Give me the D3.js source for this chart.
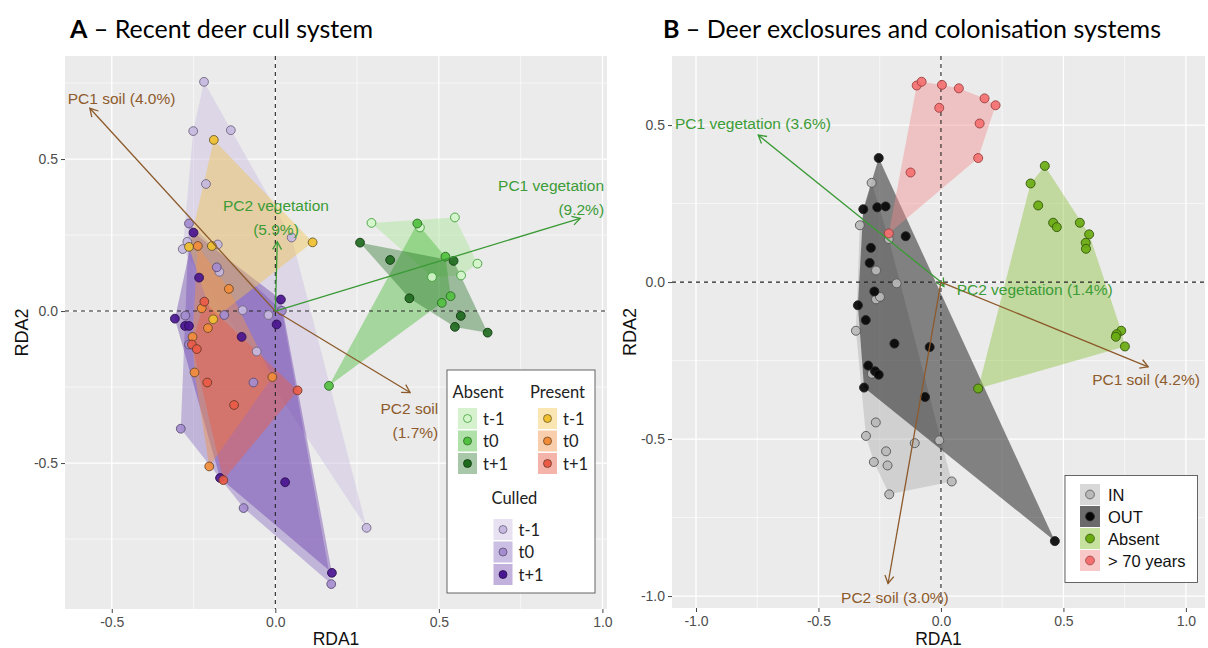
<!DOCTYPE html>
<html><head><meta charset="utf-8">
<script src="https://cdn.jsdelivr.net/npm/d3@7"></script>
<style>body{margin:0;background:#fff;} svg{display:block;}</style>
</head><body><svg id="c" width="1208" height="648"></svg>
<script>
// ---------- Panel A data (RDA1, RDA2) ----------
const absentT1 = [[0.294,0.29],[0.442,0.275],[0.549,0.308],[0.618,0.156],[0.479,0.112],[0.568,0.117]];
const absentT0 = [[0.434,0.288],[0.52,0.179],[0.509,0.027],[0.536,0.049],[0.164,-0.246]];
const absentT2 = [[0.259,0.225],[0.351,0.168],[0.545,0.165],[0.41,0.042],[0.567,-0.016],[0.549,-0.052],[0.649,-0.071]];
const presentT1 = [[-0.188,0.563],[0.114,0.226],[-0.264,0.211],[-0.194,0.214],[-0.19,-0.027]];
const presentT0 = [[-0.237,0.214],[-0.142,0.073],[-0.225,0.009],[-0.206,-0.056],[-0.253,-0.085],[-0.247,-0.202],[-0.009,-0.217],[-0.202,-0.511]];
const presentT2 = [[-0.217,0.031],[-0.255,-0.11],[-0.24,-0.125],[-0.208,-0.235],[0.068,-0.261],[-0.126,-0.309],[-0.159,-0.556]];
const culledT1 = [[-0.218,0.754],[-0.251,0.592],[-0.136,0.595],[-0.212,0.418],[0.05,0.242],[-0.269,0.228],[-0.283,0.204],[-0.176,0.219],[-0.171,0.129],[-0.1,0.003],[-0.021,-0.013],[-0.057,-0.133],[0.279,-0.713]];
const culledT0 = [[-0.264,0.288],[-0.179,0.144],[0.02,0.001],[-0.275,-0.015],[-0.156,-0.013],[-0.264,-0.11],[-0.067,-0.235],[-0.289,-0.387],[-0.097,-0.648],[0.171,-0.898]];
const culledT2 = [[-0.25,0.258],[-0.233,0.11],[-0.307,-0.025],[0.017,0.038],[0.004,-0.044],[-0.276,-0.049],[-0.264,-0.049],[-0.103,-0.085],[-0.169,-0.549],[0.03,-0.563],[0.173,-0.861]];

// arrows A: [name, line1, line2, tipX, tipY, labelX, labelY, anchor, type]
const arrowsA = [
  ["PC1 soil", "PC1 soil (4.0%)", "", -0.567, 0.667, -0.47, 0.70, "middle", "soil"],
  ["PC2 soil", "PC2 soil", "(1.7%)", 0.412, -0.268, 0.498, -0.319, "end", "soil"],
  ["PC1 vegetation", "PC1 vegetation", "(9.2%)", 0.932, 0.305, 1.005, 0.414, "end", "veg"],
  ["PC2 vegetation", "PC2 vegetation", "(5.9%)", 0.006, 0.228, 0.002, 0.346, "middle", "veg"]
];

// ---------- Panel B data ----------
const groupIN = [[-0.283,0.316],[-0.331,0.181],[-0.213,0.137],[-0.265,0.037],[-0.181,-0.004],[-0.265,-0.055],[-0.249,-0.047],[-0.347,-0.155],[-0.282,-0.292],[-0.266,-0.447],[-0.306,-0.49],[-0.107,-0.513],[-0.007,-0.504],[-0.224,-0.539],[-0.274,-0.573],[-0.218,-0.584],[0.044,-0.635],[-0.211,-0.676]];
const groupOUT = [[-0.254,0.395],[-0.317,0.232],[-0.26,0.238],[-0.226,0.241],[-0.144,0.146],[-0.286,0.109],[-0.291,0.061],[-0.272,-0.03],[-0.339,-0.074],[-0.307,-0.121],[-0.19,-0.196],[-0.046,-0.207],[-0.297,-0.266],[-0.269,-0.284],[-0.254,-0.295],[-0.314,-0.336],[-0.065,-0.366],[0.465,-0.825]];
const groupAbsent = [[0.424,0.37],[0.366,0.314],[0.397,0.244],[0.458,0.189],[0.473,0.175],[0.567,0.189],[0.605,0.152],[0.591,0.125],[0.592,0.106],[0.736,-0.155],[0.717,-0.166],[0.714,-0.174],[0.751,-0.205],[0.152,-0.339]];
const groupOld = [[-0.099,0.626],[-0.079,0.638],[0.004,0.628],[-0.007,0.555],[0.073,0.617],[0.178,0.585],[0.223,0.563],[0.158,0.505],[0.152,0.395],[-0.124,0.349],[-0.213,0.155]];

const arrowsB = [
  ["PC1 vegetation", "PC1 vegetation (3.6%)", "", -0.746, 0.468, -1.086, 0.505, "start", "veg"],
  ["PC2 vegetation", "PC2 vegetation (1.4%)", "", 0.012, -0.014, 0.064, -0.025, "start", "veg"],
  ["PC1 soil", "PC1 soil (4.2%)", "", 0.846, -0.27, 1.057, -0.31, "end", "soil"],
  ["PC2 soil", "PC2 soil (3.0%)", "", -0.216, -0.96, -0.188, -1.003, "middle", "soil"]
];

// tick values / labels
const ticksAx = [-0.5, 0.0, 0.5, 1.0];
const ticksAy = [-0.5, 0.0, 0.5];
const minorAx = [-0.25, 0.25, 0.75];
const minorAy = [-0.75, -0.25, 0.25, 0.75];
const ticksBx = [-1.0, -0.5, 0.0, 0.5, 1.0];
const ticksBy = [-1.0, -0.5, 0.0, 0.5];
const minorBx = [-0.75, -0.25, 0.25, 0.75];
const minorBy = [-0.75, -0.25, 0.25];

const legendAbsent = ["t-1", "t0", "t+1"];
const legendPresent = ["t-1", "t0", "t+1"];
const legendCulled = ["t-1", "t0", "t+1"];
const legendB = ["IN", "OUT", "Absent", "> 70 years"];

// ---------- styles ----------
const stylesA = [
  {data: culledT1, fill: "#c9bde0", hullOp: 0.45, pt: "#c6b8e0", stroke: "#6f6680"},
  {data: culledT0, fill: "#8f74c4", hullOp: 0.46, pt: "#a48ccf", stroke: "#5c4f73"},
  {data: culledT2, fill: "#5a28a0", hullOp: 0.36, pt: "#4a1590", stroke: "#2b1050"},
  {data: presentT1, fill: "#f3c44a", hullOp: 0.42, pt: "#f0c030", stroke: "#6b5a2a"},
  {data: presentT0, fill: "#f2934a", hullOp: 0.45, pt: "#f28c38", stroke: "#6b4a2a"},
  {data: presentT2, fill: "#e8604a", hullOp: 0.47, pt: "#ea5a45", stroke: "#6b3a2a"},
  {data: absentT1, fill: "#b4e6a4", hullOp: 0.55, pt: "#d2f5c9", stroke: "#3f9f3a"},
  {data: absentT0, fill: "#58c046", hullOp: 0.47, pt: "#52c040", stroke: "#2d6b25"},
  {data: absentT2, fill: "#1e6b1e", hullOp: 0.38, pt: "#1f6a1f", stroke: "#103a10"}
];
const stylesB = [
  {data: groupIN, fill: "#a8a8a8", hullOp: 0.4, pt: "#b9b9b9", stroke: "#555"},
  {data: groupOUT, fill: "#000000", hullOp: 0.45, pt: "#050505", stroke: "#222"},
  {data: groupAbsent, fill: "#8fc440", hullOp: 0.45, pt: "#6aab12", stroke: "#34560a"},
  {data: groupOld, fill: "#f28a8a", hullOp: 0.42, pt: "#f47070", stroke: "#9a4040"}
];

const soilCol = "#8c5a2b", vegCol = "#3a9a35";
const svg = d3.select("#c");

function drawArrow(g, x0, y0, x1, y1, col) {
  g.append("line").attr("x1", x0).attr("y1", y0).attr("x2", x1).attr("y2", y1)
    .attr("stroke", col).attr("stroke-width", 1.3);
  const a = Math.atan2(y1 - y0, x1 - x0), L = 9, w = Math.PI / 6;
  const p = d3.path();
  p.moveTo(x1 - L * Math.cos(a - w), y1 - L * Math.sin(a - w));
  p.lineTo(x1, y1);
  p.lineTo(x1 - L * Math.cos(a + w), y1 - L * Math.sin(a + w));
  g.append("path").attr("d", p.toString()).attr("fill", "none").attr("stroke", col).attr("stroke-width", 1.3);
}

function panel(cfg) {
  const x = d3.scaleLinear().domain(cfg.xd).range([cfg.left, cfg.right]);
  const y = d3.scaleLinear().domain(cfg.yd).range([cfg.bottom, cfg.top]);
  const g = svg.append("g");
  g.append("rect").attr("x", cfg.left).attr("y", cfg.top).attr("width", cfg.right - cfg.left)
    .attr("height", cfg.bottom - cfg.top).attr("fill", "#ebebeb");
  // grid
  cfg.minorX.forEach(v => g.append("line").attr("x1", x(v)).attr("x2", x(v)).attr("y1", cfg.top).attr("y2", cfg.bottom).attr("stroke", "#fff").attr("stroke-width", 0.6));
  cfg.minorY.forEach(v => g.append("line").attr("y1", y(v)).attr("y2", y(v)).attr("x1", cfg.left).attr("x2", cfg.right).attr("stroke", "#fff").attr("stroke-width", 0.6));
  cfg.ticksX.forEach(v => g.append("line").attr("x1", x(v)).attr("x2", x(v)).attr("y1", cfg.top).attr("y2", cfg.bottom).attr("stroke", "#fff").attr("stroke-width", 1.3));
  cfg.ticksY.forEach(v => g.append("line").attr("y1", y(v)).attr("y2", y(v)).attr("x1", cfg.left).attr("x2", cfg.right).attr("stroke", "#fff").attr("stroke-width", 1.3));
  // hulls
  cfg.groups.forEach(s => {
    const h = d3.polygonHull(s.data.map(p => [x(p[0]), y(p[1])]));
    g.append("path").attr("d", "M" + h.join("L") + "Z").attr("fill", s.fill).attr("fill-opacity", s.hullOp);
  });
  // zero lines
  g.append("line").attr("x1", x(0)).attr("x2", x(0)).attr("y1", cfg.top).attr("y2", cfg.bottom)
    .attr("stroke", "#222").attr("stroke-width", 1.1).attr("stroke-dasharray", "4,4");
  g.append("line").attr("y1", y(0)).attr("y2", y(0)).attr("x1", cfg.left).attr("x2", cfg.right)
    .attr("stroke", "#222").attr("stroke-width", 1.1).attr("stroke-dasharray", "4,4");
  // points
  cfg.groups.forEach(s => {
    g.selectAll(null).data(s.data).enter().append("circle")
      .attr("cx", d => x(d[0])).attr("cy", d => y(d[1])).attr("r", cfg.r)
      .attr("fill", s.pt).attr("fill-opacity", 0.92).attr("stroke", s.stroke).attr("stroke-width", 0.9);
  });
  // arrows
  cfg.arrows.forEach(a => {
    const col = a[8] === "soil" ? soilCol : vegCol;
    drawArrow(g, x(0), y(0), x(a[3]), y(a[4]), col);
  });
  cfg.arrows.forEach(a => {
    const col = a[8] === "soil" ? "#8e5b2c" : "#3c9c36";
    g.append("text").attr("x", x(a[5])).attr("y", y(a[6])).attr("text-anchor", a[7])
      .attr("dominant-baseline", "central").attr("fill", col)
      .style("font-family", "'Liberation Sans', Arial, sans-serif").style("font-size", "15.5px")
      .text(a[1]);
    if (a[2]) {
      g.append("text").attr("x", x(a[5])).attr("y", y(a[6]) + 24).attr("text-anchor", a[7])
        .attr("dominant-baseline", "central").attr("fill", col)
        .style("font-family", "'Liberation Sans', Arial, sans-serif").style("font-size", "15.5px")
        .text(a[2]);
    }
  });
  // axes
  const fmt = d => d.toFixed(1);
  const ax = g.append("g").attr("transform", `translate(0,${cfg.bottom})`)
    .call(d3.axisBottom(x).tickValues(cfg.ticksX).tickFormat(fmt).tickSize(4).tickPadding(4));
  const ay = g.append("g").attr("transform", `translate(${cfg.left},0)`)
    .call(d3.axisLeft(y).tickValues(cfg.ticksY).tickFormat(fmt).tickSize(4).tickPadding(3));
  [ax, ay].forEach(a => {
    a.select(".domain").remove();
    a.selectAll(".tick line").attr("stroke", "#444");
    a.selectAll(".tick text").attr("fill", "#4d4d4d")
      .style("font-family", "'Liberation Sans', Arial, sans-serif").style("font-size", "14px");
  });
  g.append("text").attr("x", (cfg.left + cfg.right) / 2).attr("y", 645).attr("text-anchor", "middle")
    .style("font-family", "'Liberation Sans', Arial, sans-serif")
    .style("font-size", "17.5px").attr("fill", "#111").text("RDA1");
  g.append("text").attr("transform", `translate(${cfg.ylabX},${(cfg.top + cfg.bottom) / 2}) rotate(-90)`)
    .attr("text-anchor", "middle").attr("dominant-baseline", "central")
    .style("font-family", "'Liberation Sans', Arial, sans-serif")
    .style("font-size", "18px").attr("fill", "#111").text("RDA2");
  // title
  const tt = g.append("text").attr("x", cfg.titleX).attr("y", 28).attr("dominant-baseline", "central")
    .style("font-family", "Lato, 'Open Sans', sans-serif").style("font-size", "25px").attr("fill", "#000");
  tt.append("tspan").style("font-weight", "bold").text(cfg.titleL);
  tt.append("tspan").text(" \u2013 " + cfg.title);
  return {x, y, g};
}

panel({left: 65, right: 607, top: 56, bottom: 609, xd: [-0.643, 1.014], yd: [-0.98, 0.839],
  ticksX: ticksAx, ticksY: ticksAy, minorX: minorAx, minorY: minorAy, groups: stylesA, arrows: arrowsA,
  r: 4.4, ylabX: 22, titleX: 70, titleL: "A", title: "Recent deer cull system"});
panel({left: 672, right: 1205, top: 56, bottom: 608, xd: [-1.098, 1.078], yd: [-1.038, 0.72],
  ticksX: ticksBx, ticksY: ticksBy, minorX: minorBx, minorY: minorBy, groups: stylesB, arrows: arrowsB,
  r: 4.5, ylabX: 630, titleX: 663, titleL: "B", title: "Deer exclosures and colonisation systems"});

// ---------- Legend A ----------
const lg = svg.append("g");
lg.append("rect").attr("x", 447).attr("y", 370).attr("width", 148).attr("height", 223)
  .attr("fill", "#fff").attr("stroke", "#555").attr("stroke-width", 0.9);
const lfont = "Lato, 'Open Sans', sans-serif";
function ltitle(txt, xx, yy) {
  lg.append("text").attr("x", xx).attr("y", yy).attr("dominant-baseline", "central")
    .style("font-family", lfont).style("font-size", "16.5px").attr("fill", "#222").text(txt);
}
ltitle("Absent", 452.5, 392);
ltitle("Present", 530, 392);
ltitle("Culled", 491.5, 498);
function lblock(labels, styles, kx, y0) {
  labels.forEach((lab, i) => {
    const s = styles[i], cy = y0 + i * 22.5;
    lg.append("rect").attr("x", kx).attr("y", cy - 10.5).attr("width", 19).attr("height", 21)
      .attr("fill", s.fill).attr("fill-opacity", s.hullOp);
    lg.append("circle").attr("cx", kx + 9.5).attr("cy", cy).attr("r", 4)
      .attr("fill", s.pt).attr("stroke", s.stroke).attr("stroke-width", 0.8);
    lg.append("text").attr("x", kx + 25).attr("y", cy).attr("dominant-baseline", "central")
      .style("font-family", lfont).style("font-size", "16.5px").attr("fill", "#222").text(lab);
  });
}
lblock(legendAbsent, [stylesA[6], stylesA[7], stylesA[8]], 458, 418.5);
lblock(legendPresent, [stylesA[3], stylesA[4], stylesA[5]], 538, 418.5);
lblock(legendCulled, [stylesA[0], stylesA[1], stylesA[2]], 493.5, 529.5);

// ---------- Legend B ----------
const lb = svg.append("g");
lb.append("rect").attr("x", 1065).attr("y", 475.5).attr("width", 132.5).attr("height", 107)
  .attr("fill", "#fff").attr("stroke", "#555").attr("stroke-width", 0.9);
legendB.forEach((lab, i) => {
  const s = stylesB[i], cy = 494.5 + i * 22;
  lb.append("rect").attr("x", 1080).attr("y", cy - 10.5).attr("width", 20).attr("height", 21)
    .attr("fill", s.fill).attr("fill-opacity", i === 1 ? 0.58 : s.hullOp + 0.05);
  lb.append("circle").attr("cx", 1090).attr("cy", cy).attr("r", 4.4)
    .attr("fill", s.pt).attr("stroke", s.stroke).attr("stroke-width", 0.8);
  lb.append("text").attr("x", 1108).attr("y", cy).attr("dominant-baseline", "central")
    .style("font-family", "'Liberation Sans', Arial, sans-serif").style("font-size", "16.5px")
    .attr("fill", "#111").text(lab);
});
</script></body></html>
